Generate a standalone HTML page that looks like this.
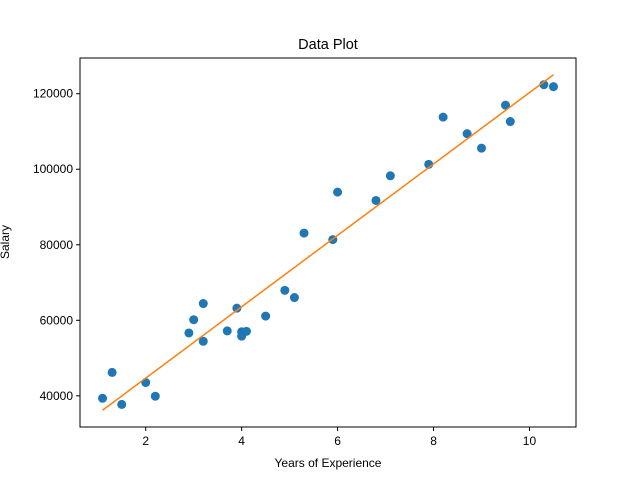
<!DOCTYPE html>
<html><head><meta charset="utf-8"><style>
body{margin:0;background:#fff;font-family:"Liberation Sans","DejaVu Sans",sans-serif}
</style></head><body>
<svg id="chart" width="640" height="480" xmlns="http://www.w3.org/2000/svg">
<rect width="640" height="480" fill="#fff"/>
<text x="328" y="49" font-size="14.5" text-anchor="middle">Data Plot</text>
<g id="plot"></g>
<rect x="80" y="58" width="496" height="369" fill="none" stroke="#000" stroke-width="1"/>
<text x="328" y="467" font-size="12" text-anchor="middle">Years of Experience</text>
<text transform="translate(9,242) rotate(-90)" font-size="12" text-anchor="middle">Salary</text>
</svg>
<script>
const years=[1.1,1.3,1.5,2.0,2.2,2.9,3.0,3.2,3.2,3.7,3.9,4.0,4.0,4.1,4.5,4.9,5.1,5.3,5.9,6.0,6.8,7.1,7.9,8.2,8.7,9.0,9.5,9.6,10.3,10.5];
const salary=[39343,46205,37731,43525,39891,56642,60150,54445,64445,57189,63218,55794,56957,57081,61111,67938,66029,83088,81363,93940,91738,98273,101302,113812,109431,105582,116969,112635,122391,121872];
const fitSlope=9449.96;
const fitIntercept=25792.2;
const xTicks=[2,4,6,8,10];
const yTicks=[40000,60000,80000,100000,120000];
const xTickLabels=["2","4","6","8","10"];
const yTickLabels=["40000","60000","80000","100000","120000"];

const L=80,R=576,T=58,B=427;
const xmin=Math.min(...years),xmax=Math.max(...years);
const fy=x=>fitSlope*x+fitIntercept;
const allY=salary.concat([fy(xmin),fy(xmax)]);
const ymin0=Math.min(...allY),ymax0=Math.max(...allY);
const xpad=(xmax-xmin)*0.05,ypad=(ymax0-ymin0)*0.05;
const x0=xmin-xpad,x1=xmax+xpad,y0=ymin0-ypad,y1=ymax0+ypad;
const sx=v=>L+(v-x0)/(x1-x0)*(R-L);
const sy=v=>B-(v-y0)/(y1-y0)*(B-T);
const NS="http://www.w3.org/2000/svg";
const g=document.getElementById('plot');
function mk(t,a){const e=document.createElementNS(NS,t);for(const k in a)e.setAttribute(k,a[k]);g.appendChild(e);return e;}
xTicks.forEach((v,i)=>{
 const t=mk('line',{x1:sx(v),x2:sx(v),y1:B,y2:B+4,stroke:'#000'});
 
 
 const l=mk('text',{x:sx(v),y:B+18,'font-size':'12','text-anchor':'middle'});l.textContent=xTickLabels[i];
 
 
});
yTicks.forEach((v,i)=>{
 const t=mk('line',{x1:L-4,x2:L,y1:sy(v),y2:sy(v),stroke:'#000'});
 
 
 const l=mk('text',{x:L-7,y:sy(v)+4,'font-size':'12','text-anchor':'end'});l.textContent=yTickLabels[i];
 
 
});
years.forEach((v,i)=>{
 const c=mk('circle',{cx:sx(v),cy:sy(salary[i]),r:4.5,fill:'#1f77b4'});
 
 
});
const ln=mk('line',{x1:sx(xmin),y1:sy(fy(xmin)),x2:sx(xmax),y2:sy(fy(xmax)),stroke:'#ff7f0e','stroke-width':1.5});


</script>
</body></html>
